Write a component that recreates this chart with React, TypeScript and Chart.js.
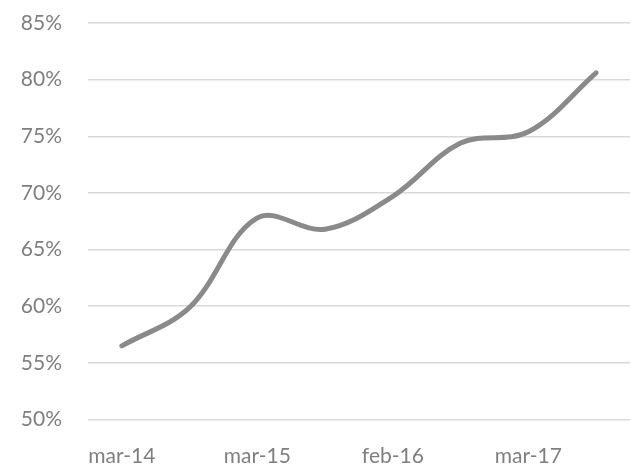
import { useEffect, useRef } from "react";
import { Chart, registerables } from "chart.js";

Chart.register(...registerables);

// Half-yearly survey periods; only every other one is labelled on the axis
const periods = ["mar-14", "sep-14", "mar-15", "sep-15", "feb-16", "aug-16", "mar-17", "sep-17"];
// Share (%) per period
const shareValues = [56.5, 59.9, 67.8, 66.8, 69.7, 74.4, 75.4, 80.6];
// Y axis range and step, in %
const yMin = 50;
const yMax = 85;
const yStep = 5;

const textColor = "#7f7f7f";
const lineColor = "#8a8a8a";
const gridColor = "#d9d9d9";
const fontFamily = "Lato, 'Open Sans', sans-serif";

export default function App() {
  const canvasRef = useRef<HTMLCanvasElement | null>(null);

  useEffect(() => {
    document.body.style.margin = "0";
    const canvas = canvasRef.current;
    if (!canvas) return;
    const chart = new Chart(canvas, {
      type: "line",
      data: {
        labels: periods,
        datasets: [
          {
            data: shareValues,
            borderColor: lineColor,
            borderWidth: 5,
            borderCapStyle: "round",
            pointRadius: 0,
            tension: 0.36,
            fill: false,
          },
        ],
      },
      options: {
        responsive: false,
        animation: false,
        layout: { padding: { top: 23, right: 1, left: 0, bottom: 0 } },
        plugins: {
          legend: { display: false },
          tooltip: { enabled: false },
        },
        scales: {
          x: {
            offset: true,
            grid: { display: false, drawTicks: false },
            border: { display: false },
            ticks: {
              autoSkip: false,
              maxRotation: 0,
              padding: 24,
              color: textColor,
              font: { family: fontFamily, size: 21 },
              callback: (_v, i) => (i % 2 === 0 ? periods[i] : ""),
            },
            afterFit: (scale) => {
              scale.height = 49.5;
            },
          },
          y: {
            min: yMin,
            max: yMax,
            grid: { color: gridColor, lineWidth: 1.5, drawTicks: false },
            border: { display: false },
            ticks: {
              stepSize: yStep,
              padding: 26,
              color: textColor,
              font: { family: fontFamily, size: 21 },
              callback: (v) => `${v}%`,
            },
            afterFit: (scale: any) => {
              scale.width = 88;
              // the tick padding is horizontal only; don't reserve it above/below the axis
              scale.paddingTop = 0;
              scale.paddingBottom = 0;
            },
          },
        },
      },
    });
    return () => chart.destroy();
  }, []);

  return <canvas ref={canvasRef} width={631} height={469} style={{ display: "block" }} />;
}
